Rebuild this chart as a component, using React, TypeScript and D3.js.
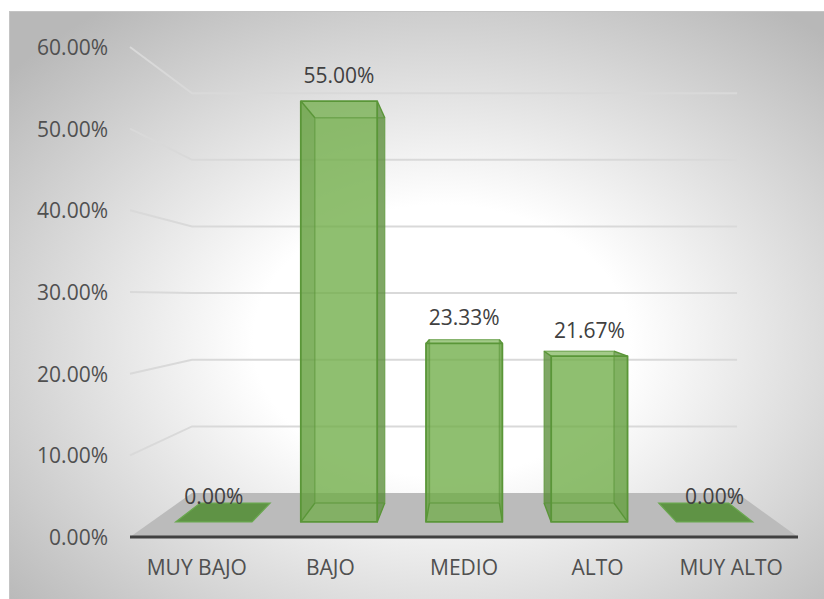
import * as d3 from "d3"

const categories = ["MUY BAJO", "BAJO", "MEDIO", "ALTO", "MUY ALTO"]
const values = [0, 0.55, 0.2333, 0.2167, 0]
const ticks = [0, 0.1, 0.2, 0.3, 0.4, 0.5, 0.6]

const W = 824
const H = 599
// perspective: vanishing point and depth scales (front plane = 1)
const vp = { x: 467, y: 298 }
const sWall = 0.816
const sBarFront = 0.937
const sBarBack = 0.858

const x = d3.scaleBand<string>().domain(categories).range([130, 798]).paddingInner(0.39).paddingOuter(0.195)
const y = d3.scaleLinear().domain([0, 0.6]).range([537, 47])
const fmt = d3.format(".2%")

const proj = (px: number, py: number, s: number): [number, number] => [vp.x + s * (px - vp.x), vp.y + s * (py - vp.y)]
const poly = (pts: [number, number][]) => pts.map((p) => p.join(",")).join(" ")

const font = "'Open Sans', Lato, sans-serif"
const fontSize = 21

function Bar({ cat, v }: { cat: string; v: number }) {
  const x0 = x(cat) as number
  const x1 = x0 + x.bandwidth()
  const yt = y(v)
  const yb = y(0)
  const f = (px: number, py: number) => proj(px, py, sBarFront)
  const b = (px: number, py: number) => proj(px, py, sBarBack)
  const stroke = "#5a9638"
  const cx = proj((x0 + x1) / 2, yt, sBarFront)
  const label = (
    <text x={cx[0]} y={cx[1] - 18} textAnchor="middle" fontSize={fontSize} fill="#404040" fontFamily={font}>
      {fmt(v)}
    </text>
  )

  if (v === 0) {
    return (
      <g>
        <polygon points={poly([f(x0, yb), f(x1, yb), b(x1, yb), b(x0, yb)])} fill="#5f9345" stroke="#6aa84f" strokeWidth={1.2} />
        {label}
      </g>
    )
  }

  const fTL = f(x0, yt), fTR = f(x1, yt), fBR = f(x1, yb), fBL = f(x0, yb)
  const bTL = b(x0, yt), bTR = b(x1, yt), bBR = b(x1, yb), bBL = b(x0, yb)
  const green = "#70ad47"
  const dark = "#4a7d2c"
  return (
    <g>
      <polygon points={poly([bTL, bTR, bBR, bBL])} fill={green} fillOpacity={0.45} />
      <polygon points={poly([fBL, fBR, bBR, bBL])} fill={green} fillOpacity={0.35} />
      <polygon points={poly([fTL, fTR, bTR, bTL])} fill={green} fillOpacity={0.35} />
      <polygon points={poly([fTL, fBL, bBL, bTL])} fill={dark} fillOpacity={0.55} />
      <polygon points={poly([fTR, fBR, bBR, bTR])} fill={dark} fillOpacity={0.55} />
      <polygon points={poly([fTL, fTR, fBR, fBL])} fill={green} fillOpacity={0.6} />
      <g fill="none" stroke={stroke} strokeWidth={1.4} strokeLinejoin="round">
        <polygon points={poly([bTL, bTR, bBR, bBL])} strokeOpacity={0.6} />
        <polyline points={poly([fTL, bTL])} />
        <polyline points={poly([fTR, bTR])} />
        <polyline points={poly([fBL, bBL])} />
        <polyline points={poly([fBR, bBR])} />
        <polygon points={poly([fTL, fTR, fBR, fBL])} strokeWidth={1.8} />
      </g>
      {label}
    </g>
  )
}

export default function App() {
  const left = 130
  const right = 798
  const floor = [proj(left, y(0), 1), proj(right, y(0), 1), proj(right, y(0), sWall), proj(left, y(0), sWall)]
  return (
    <svg width={W} height={H} style={{ position: "absolute", left: 0, top: 0 }}>
      <defs>
        <radialGradient id="bg" cx="0.53" cy="0.56" r="0.7">
          <stop offset="0" stopColor="#ffffff" />
          <stop offset="0.33" stopColor="#ffffff" />
          <stop offset="1" stopColor="#b8b8b8" />
        </radialGradient>
      </defs>
      <rect width={W} height={H} fill="#fff" />
      <rect x={9.5} y={11.5} width={W - 9} height={H - 11} fill="url(#bg)" stroke="#c4c4c4" strokeWidth={1} />

      {/* wall gridlines */}
      <g fill="none" stroke="#d9d9d9" strokeWidth={2}>
        {ticks.filter((t) => t > 0).map((t) => (
          <polyline key={t} points={poly([proj(left, y(t), 1), proj(left, y(t), sWall), proj(right, y(t), sWall)])} />
        ))}
      </g>

      {/* floor */}
      <polygon points={poly(floor)} fill="#bbbbbb" />

      {categories.map((c, i) => (
        <Bar key={c} cat={c} v={values[i]} />
      ))}

      <line x1={left} x2={right} y1={y(0)} y2={y(0)} stroke="#404040" strokeWidth={3} />

      <g fontFamily={font} fontSize={fontSize} fill="#505050">
        {ticks.map((t) => (
          <text key={t} x={108} y={y(t) + 8} textAnchor="end">
            {fmt(t)}
          </text>
        ))}
        {categories.map((c) => (
          <text key={c} x={(x(c) as number) + x.bandwidth() / 2} y={575} textAnchor="middle">
            {c}
          </text>
        ))}
      </g>
    </svg>
  )
}
